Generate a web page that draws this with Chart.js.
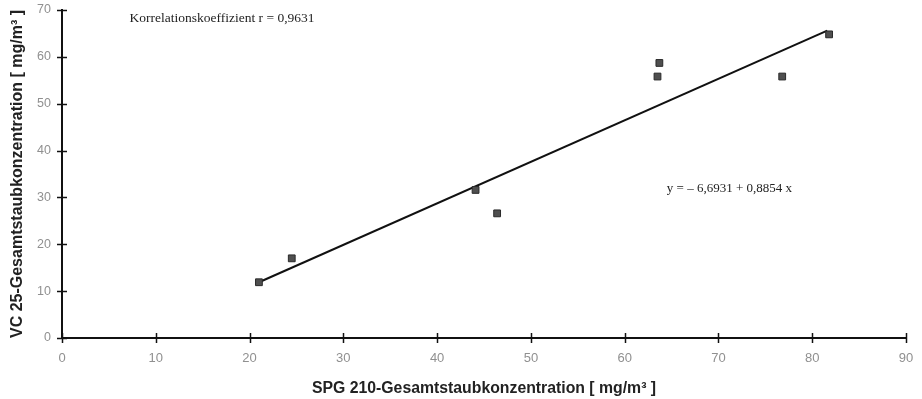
<!DOCTYPE html>
<html>
<head>
<meta charset="utf-8">
<script src="https://cdn.jsdelivr.net/npm/chart.js@4/dist/chart.umd.min.js"></script>
<style>
html,body{margin:0;padding:0;background:#fff;}
#wrap{width:922px;height:399px;}
</style>
</head>
<body>
<div id="wrap"><canvas id="c" width="922" height="399"></canvas></div>
<script>
// Data
const spgValues = [21.0, 24.5, 44.1, 46.4, 63.5, 63.7, 76.8, 81.8];
const vcValues  = [11.9, 17.0, 31.6, 26.6, 55.8, 58.7, 55.8, 64.8];
const fitX = [21.0, 81.6];
const fitY = [11.9, 65.6];
const xTicks = [0, 10, 20, 30, 40, 50, 60, 70, 80, 90];
const yTicks = [0, 10, 20, 30, 40, 50, 60, 70];
const xTitle = 'SPG 210-Gesamtstaubkonzentration [ mg/m³ ]';
const yTitle = 'VC 25-Gesamtstaubkonzentration [ mg/m³ ]';
const corrText = 'Korrelationskoeffizient r = 0,9631';
const eqText = 'y = \u2013 6,6931 + 0,8854 x';

const points = spgValues.map((x, i) => ({x: x, y: vcValues[i]}));
const fitLine = fitX.map((x, i) => ({x: x, y: fitY[i]}));

const crossTicks = {
  id: 'crossTicks',
  afterDraw(chart) {
    const ctx = chart.ctx;
    const xs = chart.scales.x, ys = chart.scales.y;
    ctx.save();
    ctx.strokeStyle = '#111';
    ctx.lineWidth = 1.5;
    const ay = ys.getPixelForValue(0);
    xTicks.forEach(v => {
      const px = Math.round(xs.getPixelForValue(v)) + 0.5;
      ctx.beginPath(); ctx.moveTo(px, ay - 5); ctx.lineTo(px, ay + 5); ctx.stroke();
    });
    const ax = xs.getPixelForValue(0);
    yTicks.forEach(v => {
      const py = Math.round(ys.getPixelForValue(v)) + 0.5;
      ctx.beginPath(); ctx.moveTo(ax - 5, py); ctx.lineTo(ax + 5, py); ctx.stroke();
    });
    // annotations
    ctx.fillStyle = '#222';
    ctx.textBaseline = 'middle';
    ctx.textAlign = 'left';
    ctx.font = '13.5px "Liberation Serif", "DejaVu Serif", serif';
    ctx.fillText(corrText, xs.getPixelForValue(7.2), ys.getPixelForValue(68.3));
    ctx.font = '13px "Liberation Serif", "DejaVu Serif", serif';
    ctx.fillText(eqText, xs.getPixelForValue(64.5), ys.getPixelForValue(31.9));
    ctx.restore();
  }
};

new Chart(document.getElementById('c'), {
  type: 'scatter',
  data: {
    datasets: [
      {
        type: 'line',
        data: fitLine,
        borderColor: '#111',
        borderWidth: 2,
        pointRadius: 0,
        fill: false,
        order: 2
      },
      {
        data: points,
        pointStyle: 'rect',
        pointRadius: 4.8,
        backgroundColor: '#4f4f4f',
        borderColor: '#2a2a2a',
        borderWidth: 1,
        order: 1
      }
    ]
  },
  options: {
    responsive: false,
    devicePixelRatio: 1,
    animation: false,
    layout: {padding: {top: 10, right: 16, left: 0, bottom: 0}},
    plugins: {legend: {display: false}, tooltip: {enabled: false}},
    scales: {
      x: {
        type: 'linear',
        min: 0, max: 90,
        afterFit(s) { s.height = 61; s.paddingLeft = 0; s.paddingRight = 0; },
        afterBuildTicks(s) { s.ticks = xTicks.map(v => ({value: v})); },
        grid: {display: false, drawTicks: false},
        border: {display: true, color: '#111', width: 2},
        ticks: {padding: 13, color: '#909090', font: {family: '"Liberation Sans", Arial, sans-serif', size: 13}, maxRotation: 0},
        title: {display: true, text: xTitle, color: '#222', padding: {top: 0, bottom: 1}, font: {family: '"Liberation Sans", Arial, sans-serif', size: 15.8, weight: 'bold'}}
      },
      y: {
        type: 'linear',
        min: 0, max: 70,
        afterFit(s) { s.width = 62; s.paddingTop = 0; s.paddingBottom = 0; },
        afterBuildTicks(s) { s.ticks = yTicks.map(v => ({value: v})); },
        grid: {display: false, drawTicks: false},
        border: {display: true, color: '#111', width: 2},
        ticks: {padding: 11, color: '#909090', font: {family: '"Liberation Sans", Arial, sans-serif', size: 12.5}},
        title: {display: true, text: yTitle, color: '#222', padding: {top: 8, bottom: 0}, font: {family: '"Liberation Sans", Arial, sans-serif', size: 16, weight: 'bold'}}
      }
    }
  },
  plugins: [crossTicks]
});
</script>
</body>
</html>
